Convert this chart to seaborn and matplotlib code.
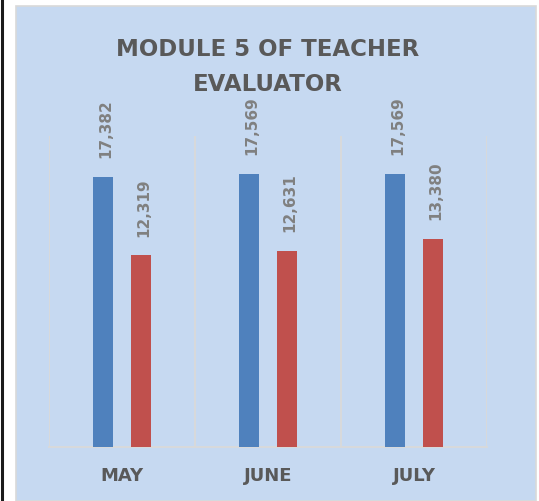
import pandas as pd
import numpy as np
import matplotlib.pyplot as plt
import seaborn as sns
from matplotlib.patches import Rectangle
from matplotlib.lines import Line2D

# values
months = ['MAY', 'JUNE', 'JULY']
series_names = ['Series1', 'Series2']
series1 = [17382, 17569, 17569]
series2 = [12319, 12631, 13380]

df = pd.DataFrame({
    'month': months * 2,
    'series': [series_names[0]] * 3 + [series_names[1]] * 3,
    'value': series1 + series2,
})

sns.set_style('white')
plt.rcParams['font.family'] = ['DejaVu Sans']

fig = plt.figure(figsize=(5.39, 5.02), dpi=100)
fig.patch.set_facecolor('white')

# light blue chart panel + outer frame lines
W, H = 539, 502
fig.patches.append(Rectangle((16 / W, 0), 520 / W, 495 / H, transform=fig.transFigure,
                             facecolor='#C6D9F1', edgecolor='#D9D9D9', linewidth=1.2,
                             zorder=-5))
fig.lines.append(Line2D([2 / W, 2 / W], [0, 1], transform=fig.transFigure,
                        color='#1a1a1a', linewidth=2.2, zorder=-4))

ax = fig.add_axes([49 / W, (H - 448) / H, (487 - 49) / W, (448 - 137) / H])
ax.set_facecolor('none')

sns.barplot(data=df, x='month', y='value', hue='series', order=months,
            hue_order=series_names, palette=['#4F81BD', '#C0504D'], saturation=1,
            width=0.508, gap=0.46, linewidth=0, legend=False, ax=ax, zorder=3)

ax.set_xlim(-0.5, 2.5)
ax.set_ylim(0, 20000)
ax.set_yticks([])
ax.set_xlabel('')
ax.set_ylabel('')

for s in ['top', 'left', 'right']:
    ax.spines[s].set_visible(False)
ax.spines['bottom'].set_color('#D9D9D9')
ax.spines['bottom'].set_linewidth(1.3)
for xb in [-0.5, 0.5, 1.5, 2.5]:
    ax.axvline(xb, color='#D9D9D9', linewidth=1.3, zorder=1)

ax.tick_params(axis='x', length=0, pad=14)
for lab in ax.get_xticklabels():
    lab.set_fontsize(13)
    lab.set_fontweight('bold')
    lab.set_color('#595959')

# data labels
for cont in ax.containers:
    for bar in cont:
        h = bar.get_height()
        ax.annotate(f'{int(h):,}', (bar.get_x() + bar.get_width() / 2, h),
                    xytext=(2, 14), textcoords='offset points', rotation=90,
                    ha='center', va='bottom', fontsize=11, fontweight='bold',
                    color='#808080', annotation_clip=False)

fig.text(0.496, (H - 91) / H, 'MODULE 5 OF TEACHER\nEVALUATOR', ha='center',
         va='baseline', fontsize=16.5, fontweight='bold', color='#595959',
         linespacing=1.65)

fig.savefig('out.png', dpi=100)
